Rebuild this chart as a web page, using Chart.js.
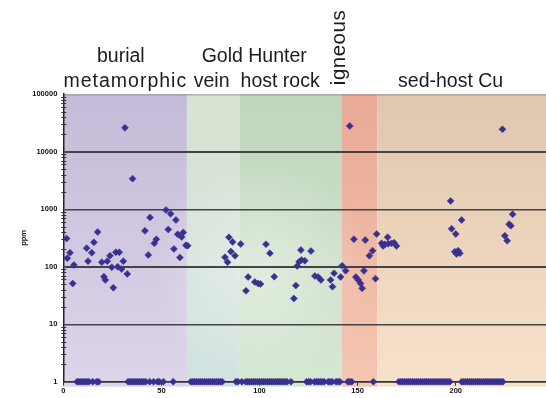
<!DOCTYPE html>
<html>
<head>
<meta charset="utf-8">
<script src="https://cdn.jsdelivr.net/npm/chart.js@4.4.1/dist/chart.umd.min.js"></script>
<style>
  html, body { margin: 0; padding: 0; background: #ffffff; }
  #wrap { width: 546px; height: 398px; position: relative; }
</style>
</head>
<body>
<div id="wrap"><canvas id="c" width="546" height="398"></canvas></div>
<script>
// Sample number (x) and measured concentration in ppm (y)
const sampleX = [
  1.7, 2.0, 3.4, 4.8, 5.4, 11.9, 12.6, 14.5, 15.6, 17.5, 19.6, 20.7, 21.4, 22.4, 23.8, 24.7, 25.5,
  26.8, 27.7, 28.5, 29.7, 30.6, 31.4, 32.6, 35.3, 41.6, 43.3, 44.2, 46.4, 47.4, 52.3, 53.5, 54.7,
  56.4, 57.4, 58.3, 59.4, 60.3, 61.1, 62.5, 63.4,
  82.4, 83.7, 84.4, 85.4, 86.3, 87.5, 90.4, 93.1, 94.2, 97.6, 99.3, 100.5, 103.3, 105.3, 107.5,
  117.5, 118.5, 119.2, 120.2, 121.1, 121.4, 123.1, 126.2, 128.2, 129.9, 131.3, 136.2, 137.2, 138.0,
  141.3, 142.1, 143.9,
  146.0, 148.1, 149.1, 150.3, 151.5, 152.3, 153.2, 153.9, 156.0, 157.6, 159.1, 159.7,
  162.2, 163.0, 163.9, 165.3, 165.6, 167.3, 168.6, 169.8, 197.4, 197.9, 199.5, 200.0, 200.4, 201.2,
  202.1, 203.0, 223.8, 225.0, 226.2, 227.2, 228.1, 229.0
];
const samplePpm = [
  310, 140, 175, 51, 107, 210, 125, 175, 265, 400, 120, 67, 59, 125, 155, 98, 43,
  178, 100, 178, 91, 125, 26000, 75, 3400, 420, 160, 720, 255, 300, 970, 445, 830,
  204, 650, 365, 145, 330, 395, 235, 232,
  146, 120, 325, 183, 270, 155, 248, 38, 66, 54, 51, 50, 246, 171, 67,
  28, 47, 103, 122, 195, 131, 127, 187, 69, 66, 59, 59, 45, 77,
  66, 104, 85,
  28000, 300, 66, 59, 51, 42, 85, 290, 155, 190, 62, 370,
  255, 230, 245, 324, 250, 255, 262, 230, 1390, 455, 182, 370, 167, 190,
  171, 650, 24500, 345, 283, 550, 515, 815
];

// Samples below detection, plotted on the 1 ppm line
const belowDetectionX = [
  7, 8, 9, 10, 11, 12, 13, 15, 17, 18,
  33, 34, 35, 36, 37, 38, 39, 40, 41, 42, 44, 46, 48, 49, 51, 56,
  65, 66, 67, 68, 69, 70, 71, 72, 73, 74, 75, 76, 77, 78, 79, 80, 81,
  88, 89, 91, 93, 94, 95, 96, 97, 98, 99, 100, 101, 102, 103, 104, 105, 106, 107, 108, 109, 110,
  111, 112, 113, 114, 116,
  124, 125, 126, 128, 129, 130, 131, 132, 133, 135, 136, 137, 139, 140, 141,
  145, 146, 147, 158,
  171, 172, 173, 174, 175, 176, 177, 178, 179, 180, 181, 182, 183, 184, 185, 186, 187, 188, 189,
  190, 191, 192, 193, 194, 195, 196, 197,
  203, 204, 205, 206, 207, 208, 209, 210, 211, 212, 213, 214, 215, 216, 217, 218, 219, 220, 221,
  222, 223, 224
];
const belowDetectionPpm = 1;

// Deposit-type groups along the sample axis (boundaries in sample number)
const groupEdges = [0, 63, 90, 142, 160, 246];
const groupNames = ['burial metamorphic', 'vein', 'Gold Hunter host rock', 'igneous', 'sed-host Cu'];

// Axis ticks
const xTickStep = 50;
const yDecades = [1, 10, 100, 1000, 10000, 100000];
const yTitle = 'ppm';

// Group header text: [text, sample position, baseline, extra letter spacing]
const headerLines = [
  ['burial', 29.3, 61.5, 0],
  ['metamorphic', 31.6, 87, 1],
  ['vein', 75.6, 87, 0],
  ['Gold Hunter', 97.3, 61.5, 0],
  ['host rock', 110.5, 87, 0],
  ['sed-host Cu', 197.4, 87, 0]
];
const rotatedHeader = ['igneous', 141.4, 47.5];

// Band fills, top colour then bottom colour
const bandFill = [
  ['#c4bbd8', '#ddd5e9'],
  ['#d8e3d0', '#d2e2e2'],
  ['#bfd5bd', '#d6e7d2'],
  ['#e9a995', '#f4c6b2'],
  ['#dfc6ae', '#f8e1ca']
];

const FONT = '"Liberation Sans", Arial, sans-serif';

const isDecade = v => Math.abs(Math.log10(v) - Math.round(Math.log10(v))) < 1e-6;

const bandsPlugin = {
  id: 'bands',
  beforeDraw(chart) {
    const { ctx, chartArea, scales } = chart;
    const xs = scales.x;
    ctx.save();
    for (let i = 0; i < bandFill.length; i++) {
      const x0 = xs.getPixelForValue(groupEdges[i]);
      const x1 = i === bandFill.length - 1 ? chart.width : xs.getPixelForValue(groupEdges[i + 1]);
      const g = ctx.createLinearGradient(0, chartArea.top, 0, chartArea.bottom);
      g.addColorStop(0, bandFill[i][0]);
      g.addColorStop(1, bandFill[i][1]);
      ctx.fillStyle = g;
      ctx.fillRect(x0, chartArea.top, x1 - x0, chartArea.bottom - chartArea.top + 5);
    }
    // soft pale cloud across the middle of the field
    const cx = xs.getPixelForValue(100), cy = chartArea.top + 175;
    const rg = ctx.createRadialGradient(cx, cy, 10, cx, cy, 110);
    rg.addColorStop(0, 'rgba(255,255,255,0.35)');
    rg.addColorStop(1, 'rgba(255,255,255,0)');
    ctx.fillStyle = rg;
    ctx.fillRect(chartArea.left, chartArea.top, chartArea.right - chartArea.left, chartArea.bottom - chartArea.top);
    ctx.restore();
  },
  afterDraw(chart) {
    const { ctx, chartArea, scales } = chart;
    const xs = scales.x, ys = scales.y;
    ctx.save();
    // minor tick marks on the value axis
    ctx.strokeStyle = '#333';
    ctx.lineWidth = 1;
    for (let d = 0; d < yDecades.length - 1; d++) {
      for (let m = 2; m <= 9; m++) {
        const py = Math.round(ys.getPixelForValue(yDecades[d] * m)) + 0.5;
        ctx.beginPath();
        ctx.moveTo(chartArea.left - 2, py);
        ctx.lineTo(chartArea.left + 3, py);
        ctx.stroke();
      }
    }
    // group headers
    ctx.fillStyle = '#1c1c1c';
    ctx.font = '19.5px ' + FONT;
    ctx.textAlign = 'center';
    ctx.textBaseline = 'alphabetic';
    headerLines.forEach(([t, xv, by, sp]) => {
      ctx.letterSpacing = sp + 'px';
      ctx.fillText(t, xs.getPixelForValue(xv), by);
    });
    ctx.letterSpacing = '0.5px';
    ctx.font = '20.5px ' + FONT;
    ctx.translate(xs.getPixelForValue(rotatedHeader[1]) + 4.5, rotatedHeader[2]);
    ctx.rotate(-Math.PI / 2);
    ctx.fillText(rotatedHeader[0], 0, 0);
    ctx.restore();
  }
};

const points = sampleX.map((x, i) => ({ x, y: samplePpm[i] }));
const zeroPoints = belowDetectionX.map(x => ({ x, y: belowDetectionPpm }));
const markerColor = '#3a3090';

new Chart(document.getElementById('c'), {
  type: 'scatter',
  data: {
    datasets: [
      {
        label: 'ppm',
        data: points,
        pointStyle: 'rectRot',
        pointRadius: 3.5,
        pointBackgroundColor: markerColor,
        pointBorderColor: markerColor,
        pointBorderWidth: 0.5,
        clip: false
      },
      {
        label: 'below detection',
        data: zeroPoints,
        pointStyle: 'rectRot',
        pointRadius: 3.5,
        pointBackgroundColor: markerColor,
        pointBorderColor: markerColor,
        pointBorderWidth: 0.5,
        clip: false
      }
    ]
  },
  options: {
    responsive: false,
    animation: false,
    devicePixelRatio: 1,
    layout: { autoPadding: false, padding: { top: 94.2, right: 0, bottom: 0, left: 0 } },
    plugins: {
      legend: { display: false },
      tooltip: { enabled: false }
    },
    scales: {
      x: {
        type: 'linear',
        min: groupEdges[0],
        max: groupEdges[groupEdges.length - 1],
        afterFit: s => { s.height = 16.3; s.paddingRight = 0; },
        ticks: {
          stepSize: xTickStep,
          includeBounds: false,
          maxRotation: 0,
          padding: 1,
          color: '#111',
          font: { family: FONT, size: 7.5, weight: 'bold' }
        },
        grid: {
          drawOnChartArea: false,
          drawTicks: true,
          tickLength: 4,
          tickColor: '#333',
          color: '#333'
        },
        border: { display: true, color: '#333', width: 1.5 }
      },
      y: {
        type: 'logarithmic',
        min: yDecades[0],
        max: yDecades[yDecades.length - 1],
        afterFit: s => { s.width = 63.3; },
        ticks: {
          autoSkip: false,
          padding: 6,
          color: '#111',
          font: { family: FONT, size: 7.5, weight: 'bold' },
          callback: v => (isDecade(v) ? String(Math.round(v)) : '')
        },
        grid: {
          drawTicks: false,
          color: ctx => {
            const v = ctx.tick && ctx.tick.value;
            if (!v || !isDecade(v)) return 'rgba(0,0,0,0)';
            if (v >= 100000) return 'rgba(110,110,110,0.45)';
            return '#434343';
          },
          lineWidth: ctx => {
            const v = ctx.tick && ctx.tick.value;
            if (v === 10000 || v === 100) return 2;
            return 1.4;
          }
        },
        border: { display: true, color: '#222', width: 1.5 },
        title: {
          display: true,
          text: yTitle,
          color: '#111',
          font: { family: FONT, size: 7.5, weight: 'bold' },
          padding: { top: 19, bottom: 0 }
        }
      }
    }
  },
  plugins: [bandsPlugin]
});
</script>
</body>
</html>
